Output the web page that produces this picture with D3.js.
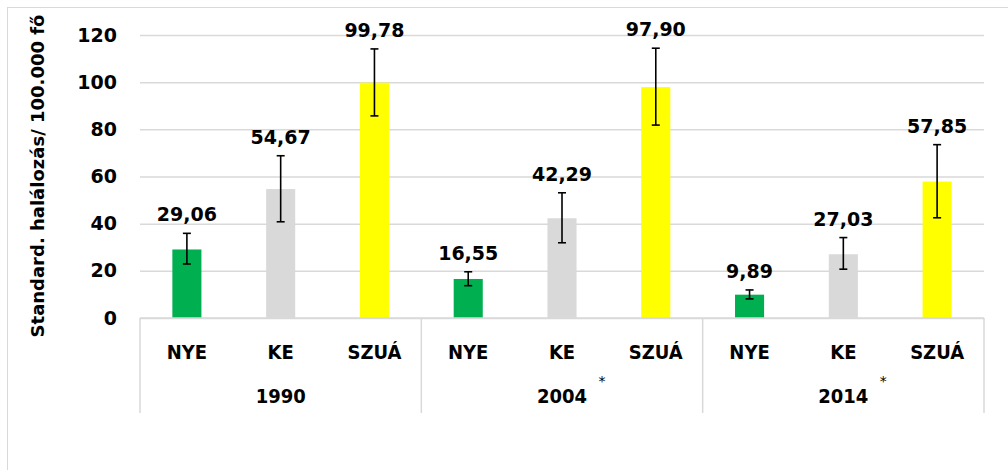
<!DOCTYPE html>
<html>
<head>
<meta charset="utf-8">
<script src="https://cdn.jsdelivr.net/npm/d3@7"></script>
<style>
  body { margin: 0; background: #fff; }
  text { font-family: "DejaVu Sans", sans-serif; font-weight: bold; fill: #000; }
  .cond { font-family: "DejaVu Sans Condensed", "DejaVu Sans", sans-serif; font-stretch: condensed; }
</style>
</head>
<body>
<div id="chart"></div>
<script>
// data
var years = ["1990", "2004", "2014"];
var regions = ["NYE", "KE", "SZUÁ"];
var values = [[29.06, 54.67, 99.78], [16.55, 42.29, 97.90], [9.89, 27.03, 57.85]];
var errLow = [[22.9, 40.8, 85.7], [13.7, 31.9, 81.8], [8.1, 20.7, 42.5]];
var errHigh = [[35.9, 68.8, 114.1], [19.6, 53.1, 114.4], [11.9, 34.1, 73.5]];
var starred = [false, true, true];
var yTicks = [0, 20, 40, 60, 80, 100, 120];
var colors = {"NYE": "#00b050", "KE": "#d9d9d9", "SZUÁ": "#ffff00"};

var W = 1008, H = 470;
var plot = {left: 140, right: 984, top: 35, bottom: 318};

var svg = d3.select("#chart").append("svg")
  .attr("width", W).attr("height", H);

// outer chart frame
svg.append("rect")
  .attr("x", 7.5).attr("y", 7.5)
  .attr("width", W + 20).attr("height", H + 20)
  .attr("fill", "none").attr("stroke", "#d9d9d9");

var rows = [];
years.forEach(function(yr, i) {
  regions.forEach(function(r, j) {
    rows.push({year: yr, region: r, value: values[i][j], lo: errLow[i][j], hi: errHigh[i][j]});
  });
});

var x0 = d3.scaleBand().domain(years).range([plot.left, plot.right]).padding(0);
var x1 = d3.scaleBand().domain(regions).range([0, x0.bandwidth()])
  .paddingInner(0.69).paddingOuter(0.345);
var y = d3.scaleLinear().domain([0, 120]).range([plot.bottom, plot.top]);

// y axis with gridlines
var yAxis = svg.append("g")
  .attr("transform", "translate(" + plot.left + ",0)")
  .call(d3.axisLeft(y).tickValues(yTicks).tickSize(-(plot.right - plot.left)).tickPadding(23));
yAxis.select(".domain").remove();
yAxis.selectAll(".tick line").attr("stroke", "#d9d9d9").attr("stroke-width", 1.5);
yAxis.selectAll(".tick text")
  .style("font-size", "19px").style("font-weight", "bold")
  .style("font-family", "DejaVu Sans, sans-serif").attr("fill", "#000");

// y title
svg.append("text")
  .attr("transform", "translate(44,176) rotate(-90)")
  .attr("text-anchor", "middle")
  .style("font-size", "18px")
  .text("Standard. halálozás/ 100.000 fő");

// bars
var bx = function(d) { return x0(d.year) + x1(d.region); };
svg.selectAll(".bar").data(rows).enter().append("rect")
  .attr("class", "bar")
  .attr("x", bx)
  .attr("y", function(d) { return y(d.value); })
  .attr("width", x1.bandwidth())
  .attr("height", function(d) { return y(0) - y(d.value); })
  .attr("fill", function(d) { return colors[d.region]; });

// error bars
var eb = svg.selectAll(".err").data(rows).enter().append("g").attr("class", "err")
  .attr("stroke", "#000").attr("stroke-width", 1.6);
var cx = function(d) { return bx(d) + x1.bandwidth() / 2; };
eb.append("line")
  .attr("x1", cx).attr("x2", cx)
  .attr("y1", function(d) { return y(d.lo); })
  .attr("y2", function(d) { return y(d.hi); });
eb.append("line")
  .attr("x1", function(d) { return cx(d) - 4; }).attr("x2", function(d) { return cx(d) + 4; })
  .attr("y1", function(d) { return y(d.hi); }).attr("y2", function(d) { return y(d.hi); });
eb.append("line")
  .attr("x1", function(d) { return cx(d) - 4; }).attr("x2", function(d) { return cx(d) + 4; })
  .attr("y1", function(d) { return y(d.lo); }).attr("y2", function(d) { return y(d.lo); });

// value labels
svg.selectAll(".lbl").data(rows).enter().append("text")
  .attr("class", "lbl")
  .attr("x", cx)
  .attr("y", function(d) { return y(d.hi) - 12; })
  .attr("text-anchor", "middle")
  .style("font-size", "19px")
  .text(function(d) { return d.value.toFixed(2).replace(".", ","); });

// baseline + group separators
svg.append("line")
  .attr("x1", plot.left).attr("x2", plot.right)
  .attr("y1", plot.bottom).attr("y2", plot.bottom)
  .attr("stroke", "#d9d9d9").attr("stroke-width", 1.5);
var seps = years.map(function(yr) { return x0(yr); }).concat([plot.right]);
svg.selectAll(".sep").data(seps).enter().append("line")
  .attr("x1", function(d) { return d; }).attr("x2", function(d) { return d; })
  .attr("y1", plot.bottom).attr("y2", 413)
  .attr("stroke", "#d9d9d9").attr("stroke-width", 1.5);

// category labels
svg.selectAll(".cat").data(rows).enter().append("text")
  .attr("class", "cat cond")
  .attr("x", cx)
  .attr("y", 359)
  .attr("text-anchor", "middle")
  .style("font-size", "20px")
  .text(function(d) { return d.region; });

// year labels
svg.selectAll(".yr").data(years).enter().append("text")
  .attr("class", "yr cond")
  .attr("x", function(d) { return x0(d) + x0.bandwidth() / 2; })
  .attr("y", 403)
  .attr("text-anchor", "middle")
  .style("font-size", "20px")
  .text(function(d) { return d; });

// asterisks
svg.selectAll(".star").data(years.filter(function(d, i) { return starred[i]; })).enter().append("text")
  .attr("x", function(d) { return x0(d) + x0.bandwidth() / 2 + 40; })
  .attr("y", 386)
  .attr("text-anchor", "middle")
  .style("font-size", "14px")
  .style("font-weight", "normal")
  .text("*");
</script>
</body>
</html>
